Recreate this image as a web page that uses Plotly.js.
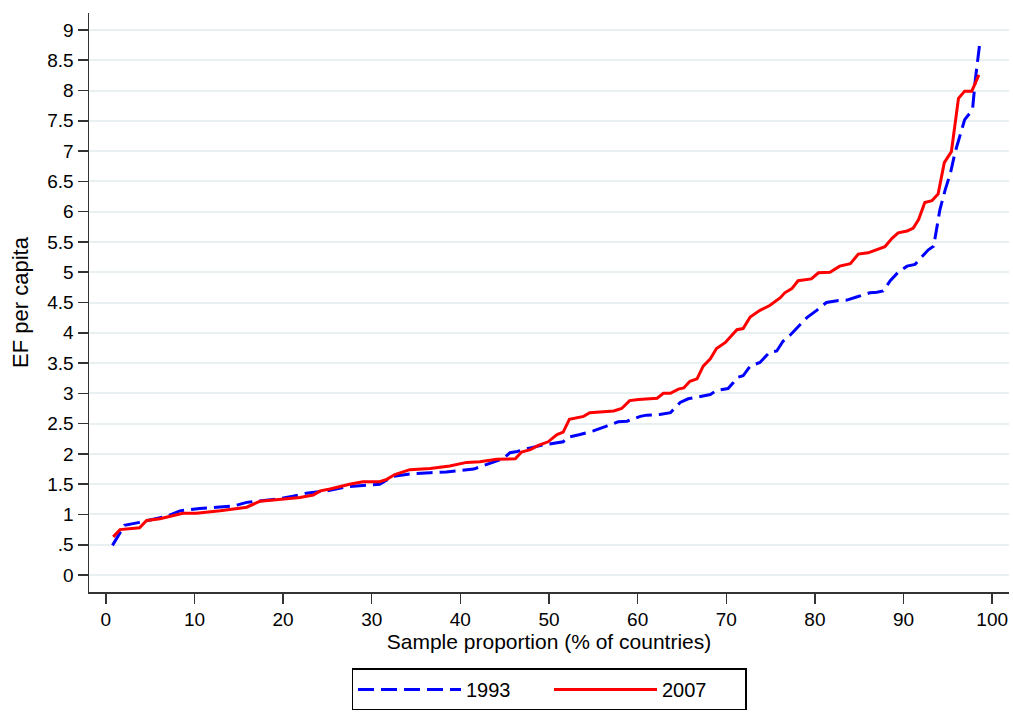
<!DOCTYPE html>
<html>
<head>
<meta charset="utf-8">
<script src="https://cdn.plot.ly/plotly-3.0.1.min.js"></script>
<style>
html,body{margin:0;padding:0;background:#fff;}
#chart{width:1013px;height:713px;}
</style>
</head>
<body>
<div id="chart"></div>
<script>
// Sample proportion (% of countries) and EF per capita, 1993
var x1993 = [0.75, 2.1, 3.8, 6.85, 8.35, 10.6, 12.5, 14.4, 15.9, 17.4, 19.6, 21.1, 22.6, 24.9, 27.2, 29.0, 30.9, 32.4, 34.3, 36.6, 38.4, 41.5, 42.6, 43.7, 44.8, 45.6, 46.4, 47.9, 49.4, 51.6, 52.0, 53.5, 55.0, 56.5, 57.8, 58.8, 60.3, 61.0, 62.5, 63.7, 64.8, 65.7, 67.0, 68.2, 68.9, 70.2, 70.8, 71.2, 71.9, 72.7, 73.8, 74.9, 75.7, 76.4, 77.2, 78.0, 79.1, 80.2, 81.3, 82.5, 83.6, 84.7, 86.2, 87.0, 87.7, 88.5, 89.4, 90.4, 91.3, 92.1, 92.8, 93.4, 93.8, 94.1, 94.7, 95.3, 95.8, 96.4, 96.9, 97.5, 97.8, 98.1, 98.6];
var ef1993 = [0.49, 0.82, 0.87, 0.97, 1.06, 1.10, 1.12, 1.14, 1.20, 1.22, 1.26, 1.30, 1.35, 1.39, 1.46, 1.48, 1.50, 1.63, 1.67, 1.69, 1.70, 1.75, 1.81, 1.87, 1.92, 2.02, 2.04, 2.10, 2.15, 2.20, 2.27, 2.32, 2.38, 2.46, 2.53, 2.54, 2.62, 2.64, 2.65, 2.68, 2.85, 2.91, 2.94, 2.98, 3.05, 3.08, 3.18, 3.26, 3.29, 3.45, 3.51, 3.68, 3.70, 3.86, 3.96, 4.08, 4.25, 4.37, 4.50, 4.53, 4.54, 4.59, 4.66, 4.67, 4.69, 4.86, 5.00, 5.10, 5.13, 5.26, 5.37, 5.43, 5.76, 6.03, 6.36, 6.64, 6.97, 7.27, 7.52, 7.63, 7.71, 8.18, 8.78];

// Sample proportion (% of countries) and EF per capita, 2007
var x2007 = [0.83, 1.6, 3.8, 4.6, 6.1, 8.7, 10.2, 12.9, 15.9, 16.6, 17.4, 18.9, 20.4, 21.9, 23.4, 24.2, 25.3, 27.5, 29.0, 30.9, 31.7, 32.6, 34.3, 36.6, 38.8, 40.7, 42.2, 44.1, 46.2, 46.9, 47.9, 48.8, 49.9, 50.9, 51.6, 52.3, 53.9, 54.6, 57.3, 58.2, 59.1, 60.1, 62.2, 62.9, 63.7, 64.6, 65.2, 65.9, 66.7, 67.4, 68.2, 68.9, 69.9, 70.4, 71.2, 71.9, 72.7, 73.8, 74.9, 76.1, 76.6, 77.4, 78.1, 79.6, 80.4, 81.7, 82.8, 84.0, 84.9, 86.0, 87.2, 87.9, 88.7, 89.4, 90.4, 91.1, 91.7, 92.4, 93.2, 93.9, 94.6, 95.4, 96.2, 96.9, 97.7, 98.5];
var ef2007 = [0.63, 0.75, 0.78, 0.90, 0.93, 1.02, 1.02, 1.06, 1.12, 1.17, 1.22, 1.24, 1.26, 1.28, 1.32, 1.39, 1.42, 1.50, 1.54, 1.54, 1.58, 1.66, 1.74, 1.76, 1.80, 1.86, 1.87, 1.91, 1.92, 2.03, 2.07, 2.14, 2.20, 2.32, 2.36, 2.57, 2.62, 2.68, 2.71, 2.75, 2.88, 2.90, 2.92, 3.00, 3.00, 3.07, 3.09, 3.20, 3.24, 3.45, 3.57, 3.74, 3.84, 3.92, 4.05, 4.07, 4.26, 4.37, 4.45, 4.58, 4.66, 4.73, 4.86, 4.89, 4.99, 5.00, 5.10, 5.14, 5.30, 5.32, 5.38, 5.42, 5.56, 5.65, 5.68, 5.73, 5.87, 6.15, 6.18, 6.29, 6.81, 6.99, 7.87, 7.99, 7.99, 8.26];

var seriesNames = ["1993", "2007"];
var xTickVals = [0, 10, 20, 30, 40, 50, 60, 70, 80, 90, 100];
var yTickVals = [0, 0.5, 1, 1.5, 2, 2.5, 3, 3.5, 4, 4.5, 5, 5.5, 6, 6.5, 7, 7.5, 8, 8.5, 9];
var yTickText = ["0", ".5", "1", "1.5", "2", "2.5", "3", "3.5", "4", "4.5", "5", "5.5", "6", "6.5", "7", "7.5", "8", "8.5", "9"];

var FONT = "Liberation Sans, Arial, Helvetica, sans-serif";

var traces = [
  {x: x1993, y: ef1993, name: seriesNames[0], type: "scatter", mode: "lines",
   line: {color: "#0000FF", width: 3, dash: "16px,7px"}},
  {x: x2007, y: ef2007, name: seriesNames[1], type: "scatter", mode: "lines",
   line: {color: "#FF0000", width: 3}}
];

var layout = {
  width: 1013, height: 713,
  paper_bgcolor: "#ffffff", plot_bgcolor: "#ffffff",
  margin: {l: 89, r: 4, t: 13, b: 120},
  font: {family: FONT, size: 19, color: "#000"},
  showlegend: true,
  legend: {
    orientation: "h", x: 0.5, xanchor: "center", y: -0.13, yanchor: "top",
    bordercolor: "#000", borderwidth: 1.5, bgcolor: "#fff",
    font: {family: FONT, size: 20, color: "#000"},
    itemwidth: 103, entrywidth: 78, tracegroupgap: 0
  },
  xaxis: {
    range: [-1.9, 101.9], tickmode: "array", tickvals: xTickVals,
    showgrid: false, zeroline: false,
    showline: true, linecolor: "#333", linewidth: 1.5,
    ticks: "outside", ticklen: 10, tickwidth: 1.5, tickcolor: "#333",
    tickfont: {family: FONT, size: 19, color: "#000"},
    title: {text: "Sample proportion (% of countries)", font: {family: FONT, size: 21, color: "#000"}, standoff: 0}
  },
  yaxis: {
    range: [-0.28, 9.28], tickmode: "array", tickvals: yTickVals, ticktext: yTickText,
    showgrid: true, gridcolor: "#E8F0F2", gridwidth: 2, zeroline: false,
    showline: true, linecolor: "#333", linewidth: 1.5,
    ticks: "outside", ticklen: 10, tickwidth: 1.5, tickcolor: "#333",
    tickfont: {family: FONT, size: 19, color: "#000"},
    title: {text: "EF per capita", font: {family: FONT, size: 22, color: "#000"}, standoff: 12}
  }
};

Plotly.newPlot("chart", traces, layout, {displayModeBar: false, staticPlot: true});
</script>
</body>
</html>
